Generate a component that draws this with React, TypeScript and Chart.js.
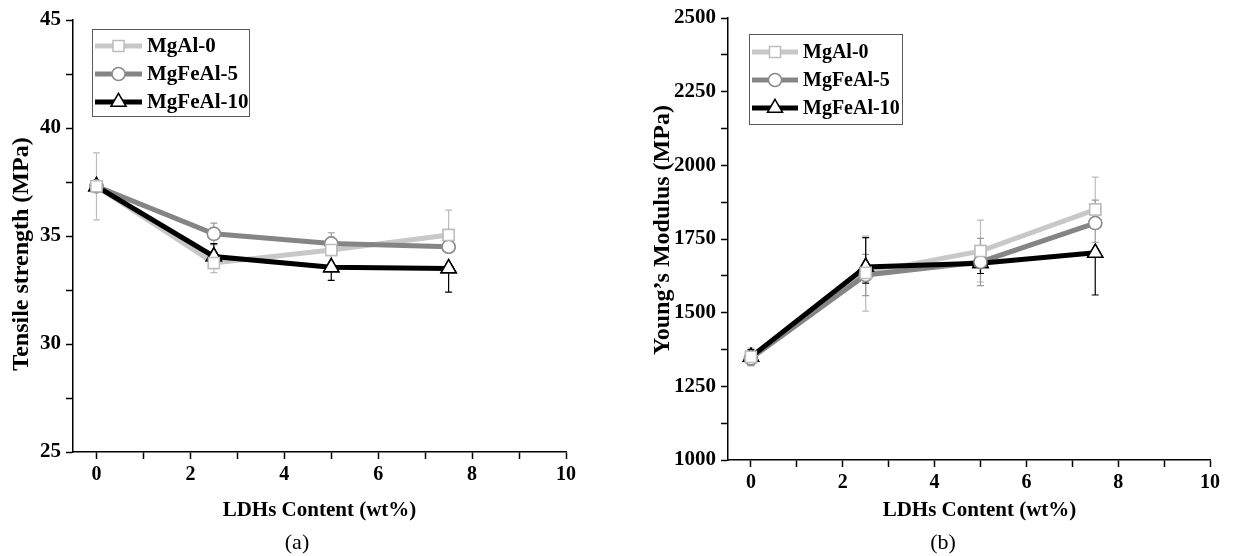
import React, { useEffect, useRef } from 'react';
import { Chart, registerables, PointElement } from 'chart.js';

Chart.register(...registerables);

const FONT = "'Liberation Serif', 'Times New Roman', Times, serif";

// ---------- data ----------
const loadings = [0, 2.5, 5, 7.5];
const seriesNames = ['MgAl-0', 'MgFeAl-5', 'MgFeAl-10'];
const xTickLabels = ['0', '2', '4', '6', '8', '10'];
const tensileTickLabels = [25, 30, 35, 40, 45];
const modulusTickLabels = [1000, 1250, 1500, 1750, 2000, 2250, 2500];

// (a) Tensile strength (MPa)
const tsMgAl0 = [37.3, 33.75, 34.35, 35.05];
const tsMgAl0Up = [1.55, 0.45, 0.6, 1.15];
const tsMgAl0Down = [1.55, 0.45, 0.6, 0];
const tsMgFeAl5 = [37.3, 35.1, 34.65, 34.5];
const tsMgFeAl5Up = [0.15, 0.5, 0.5, 0.15];
const tsMgFeAl5Down = [0.15, 0.5, 0.5, 0.15];
const tsMgFeAl10 = [37.3, 34.05, 33.55, 33.5];
const tsMgFeAl10Up = [0.2, 0.6, 0, 0];
const tsMgFeAl10Down = [0.2, 0.3, 0.6, 1.1];

// (b) Young's Modulus (MPa)
const ymMgAl0 = [1350, 1635, 1709, 1850];
const ymMgAl0Up = [30, 125, 105, 110];
const ymMgAl0Down = [30, 130, 105, 0];
const ymMgFeAl5 = [1345, 1628, 1672, 1804];
const ymMgFeAl5Up = [25, 70, 80, 78];
const ymMgFeAl5Down = [25, 70, 80, 65];
const ymMgFeAl10 = [1350, 1655, 1668, 1703];
const ymMgFeAl10Up = [25, 100, 35, 0];
const ymMgFeAl10Down = [25, 55, 35, 143];

// ---------- styles ----------
const seriesStyles = [
  { line: '#c8c8c8', marker: '#bdbdbd', err: '#bcbcbc', pointStyle: 'rect', radius: 7.8, order: 3 },
  { line: '#858585', marker: '#8c8c8c', err: '#9a9a9a', pointStyle: 'circle', radius: 6.5, order: 2 },
  { line: '#000000', marker: '#000000', err: '#000000', pointStyle: 'triangle', radius: 8.7, order: 1 },
];

const errorBarPlugin = {
  id: 'errorBars',
  beforeDatasetsDraw(chart: any) {
    const { ctx, scales } = chart;
    const x = scales.x;
    const y = scales.y;
    chart.data.datasets.forEach((ds: any) => {
      ctx.save();
      ctx.strokeStyle = ds.errorColor;
      ctx.lineWidth = 1.2;
      ds.data.forEach((pt: any, j: number) => {
        const px = x.getPixelForValue(pt.x);
        const mid = y.getPixelForValue(pt.y);
        ctx.beginPath();
        if (ds.errUp[j] > 0) {
          const top = y.getPixelForValue(pt.y + ds.errUp[j]);
          ctx.moveTo(px, mid);
          ctx.lineTo(px, top);
          ctx.moveTo(px - 3.5, top);
          ctx.lineTo(px + 3.5, top);
        }
        if (ds.errDown[j] > 0) {
          const bot = y.getPixelForValue(pt.y - ds.errDown[j]);
          ctx.moveTo(px, mid);
          ctx.lineTo(px, bot);
          ctx.moveTo(px - 3.5, bot);
          ctx.lineTo(px + 3.5, bot);
        }
        ctx.stroke();
      });
      ctx.restore();
    });
  },
};

const pointsOnTopPlugin = {
  id: 'pointsOnTop',
  afterDatasetsDraw(chart: any) {
    const ctx = chart.ctx;
    for (let i = chart.data.datasets.length - 1; i >= 0; i--) {
      const meta = chart.getDatasetMeta(i);
      meta.data.forEach((el: any) => el.draw(ctx, chart.chartArea));
    }
  },
};

const boxLegendPlugin = {
  id: 'boxLegend',
  afterDraw(chart: any, _args: any, opts: any) {
    const { ctx, chartArea } = chart;
    const bx = chartArea.left + opts.left;
    const by = chartArea.top + opts.top;
    ctx.save();
    ctx.strokeStyle = '#5a5a5a';
    ctx.lineWidth = 1;
    ctx.strokeRect(bx + 0.5, by + 0.5, opts.width, opts.height);
    chart.data.datasets.forEach((ds: any, i: number) => {
      const cy = by + opts.rowTop + i * opts.rowGap;
      ctx.strokeStyle = ds.borderColor;
      ctx.lineWidth = ds.borderWidth;
      ctx.lineCap = 'butt';
      ctx.beginPath();
      ctx.moveTo(bx + opts.lineStart, cy);
      ctx.lineTo(bx + opts.lineEnd, cy);
      ctx.stroke();
      const pt: any = new (PointElement as any)({
        x: bx + (opts.lineStart + opts.lineEnd) / 2,
        y: cy,
        options: {
          radius: ds.pointRadius,
          pointStyle: ds.pointStyle,
          rotation: 0,
          borderWidth: ds.pointBorderWidth,
          borderColor: ds.pointBorderColor,
          backgroundColor: ds.pointBackgroundColor,
        },
      });
      pt.draw(ctx, { left: 0, top: 0, right: chart.width, bottom: chart.height });
      ctx.fillStyle = '#000';
      ctx.font = `bold ${opts.fontSize}px ${FONT}`;
      ctx.textBaseline = 'middle';
      ctx.textAlign = 'left';
      ctx.fillText(ds.label, bx + opts.textX, cy + 1);
    });
    ctx.restore();
  },
};

type SeriesIn = { values: number[]; up: number[]; down: number[] };

function buildConfig(p: {
  series: SeriesIn[];
  yMin: number;
  yMax: number;
  yStep: number;
  yLabels: number[];
  yTitle: string;
  xTitle: string;
  yWidth: number;
  xHeight: number;
  padding: any;
  yTitlePad: number;
  legend: any;
}): any {
  const datasets = p.series.map((s, i) => {
    const st = seriesStyles[i];
    return {
      label: seriesNames[i],
      data: loadings.map((x, j) => ({ x, y: s.values[j] })),
      errUp: s.up,
      errDown: s.down,
      errorColor: st.err,
      borderColor: st.line,
      backgroundColor: st.line,
      borderWidth: 5,
      tension: 0,
      order: st.order,
      pointStyle: st.pointStyle,
      pointRadius: st.radius,
      pointHoverRadius: st.radius,
      pointBackgroundColor: '#ffffff',
      pointBorderColor: st.marker,
      pointBorderWidth: 1.5,
    };
  });
  const axisGrid = {
    display: true,
    drawOnChartArea: false,
    drawTicks: true,
    tickLength: 7,
    tickColor: '#000',
    tickWidth: 1.5,
  };
  const axisBorder = { display: true, color: '#000', width: 1.5 };
  return {
    type: 'line',
    data: { datasets },
    options: {
      responsive: false,
      animation: false,
      devicePixelRatio: 1,
      layout: { padding: p.padding },
      plugins: {
        legend: { display: false },
        tooltip: { enabled: false },
        title: { display: false },
        boxLegend: p.legend,
      },
      scales: {
        x: {
          type: 'linear',
          min: -0.5,
          max: 10,
          afterFit: (s: any) => {
            s.height = p.xHeight;
          },
          border: axisBorder,
          grid: axisGrid,
          ticks: {
            stepSize: 1,
            includeBounds: false,
            autoSkip: false,
            maxRotation: 0,
            minRotation: 0,
            padding: 4,
            color: '#000',
            font: { family: FONT, size: 20, weight: 'bold' },
            callback: (v: any) => (xTickLabels.includes(String(v)) ? String(v) : ''),
          },
          title: {
            display: true,
            text: p.xTitle,
            color: '#000',
            font: { family: FONT, size: 21, weight: 'bold' },
            padding: { top: 0, bottom: 33 },
          },
        },
        y: {
          type: 'linear',
          min: p.yMin,
          max: p.yMax,
          afterFit: (s: any) => {
            s.width = p.yWidth;
          },
          border: axisBorder,
          grid: axisGrid,
          ticks: {
            stepSize: p.yStep,
            autoSkip: false,
            padding: 5,
            color: '#000',
            font: { family: FONT, size: 21, weight: 'bold' },
            callback: (v: any) => (p.yLabels.includes(Number(v)) ? String(v) : ''),
          },
          title: {
            display: true,
            text: p.yTitle,
            color: '#000',
            font: { family: FONT, size: 24, weight: 'bold' },
            padding: { top: p.yTitlePad, bottom: 0 },
          },
        },
      },
    },
    plugins: [errorBarPlugin, pointsOnTopPlugin, boxLegendPlugin],
  };
}

export default function App() {
  const leftRef = useRef<HTMLCanvasElement | null>(null);
  const rightRef = useRef<HTMLCanvasElement | null>(null);

  useEffect(() => {
    const left = new Chart(
      leftRef.current as HTMLCanvasElement,
      buildConfig({
        series: [
          { values: tsMgAl0, up: tsMgAl0Up, down: tsMgAl0Down },
          { values: tsMgFeAl5, up: tsMgFeAl5Up, down: tsMgFeAl5Down },
          { values: tsMgFeAl10, up: tsMgFeAl10Up, down: tsMgFeAl10Down },
        ],
        yMin: 25,
        yMax: 45,
        yStep: 2.5,
        yLabels: tensileTickLabels,
        yTitle: 'Tensile strength (MPa)      ',
        xTitle: 'LDHs Content (wt%)',
        yWidth: 73,
        xHeight: 104,
        padding: { left: 0, top: 20, right: 34, bottom: 0 },
        yTitlePad: 7,
        legend: {
          left: 19, top: 9, width: 157, height: 87,
          rowTop: 17, rowGap: 28, lineStart: 3, lineEnd: 50, textX: 55, fontSize: 21,
        },
      })
    );
    const right = new Chart(
      rightRef.current as HTMLCanvasElement,
      buildConfig({
        series: [
          { values: ymMgAl0, up: ymMgAl0Up, down: ymMgAl0Down },
          { values: ymMgFeAl5, up: ymMgFeAl5Up, down: ymMgFeAl5Down },
          { values: ymMgFeAl10, up: ymMgFeAl10Up, down: ymMgFeAl10Down },
        ],
        yMin: 1000,
        yMax: 2500,
        yStep: 125,
        yLabels: modulusTickLabels,
        yTitle: '   Young\u2019s Modulus (MPa)',
        xTitle: '    LDHs Content (wt%)',
        yWidth: 108,
        xHeight: 96,
        padding: { left: 0, top: 18, right: 31, bottom: 0 },
        yTitlePad: 28,
        legend: {
          left: 21, top: 16, width: 153, height: 90,
          rowTop: 18, rowGap: 28, lineStart: 3, lineEnd: 49, textX: 54, fontSize: 20,
        },
      })
    );
    return () => {
      left.destroy();
      right.destroy();
    };
  }, []);

  const capStyle: React.CSSProperties = {
    position: 'absolute',
    top: 542,
    transform: 'translate(-50%, -50%)',
    font: `22px ${FONT}`,
    color: '#000',
    whiteSpace: 'nowrap',
  };

  return (
    <div style={{ position: 'absolute', left: 0, top: 0, width: 1241, height: 556, background: '#fff', overflow: 'hidden' }}>
      <canvas ref={leftRef} width={600} height={556} style={{ position: 'absolute', left: 0, top: 0 }} />
      <canvas ref={rightRef} width={621} height={556} style={{ position: 'absolute', left: 620, top: 0 }} />
      <div style={{ ...capStyle, left: 297 }}>(a)</div>
      <div style={{ ...capStyle, left: 943 }}>(b)</div>
    </div>
  );
}
